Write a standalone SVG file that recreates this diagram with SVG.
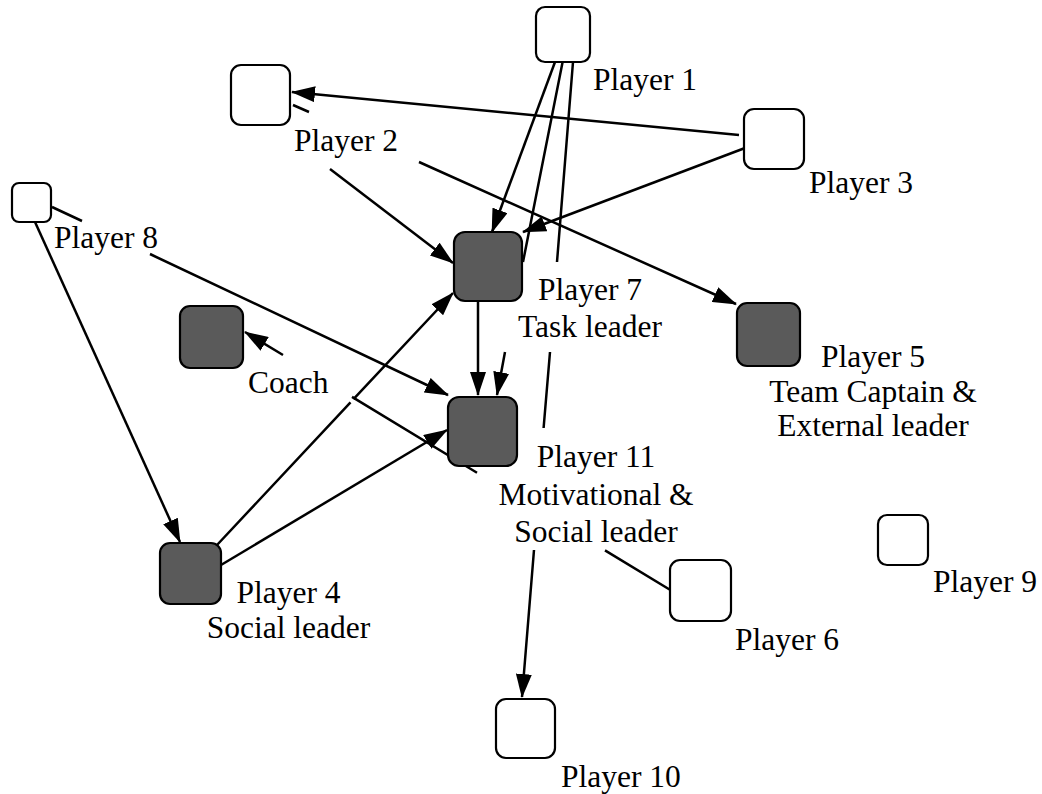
<svg xmlns="http://www.w3.org/2000/svg" width="1042" height="794" viewBox="0 0 1042 794">
<style>
.edge{fill:none;stroke:#000;stroke-width:2.5;marker-end:url(#arr)}
.wn{fill:#fff;stroke:#000;stroke-width:2.2}
.dn{fill:#5a5a5a;stroke:#000;stroke-width:2.2}
text{font-family:"Liberation Serif","Times New Roman",serif;font-size:31.5px;fill:#000}
.c{text-anchor:middle}
</style>
<defs>
<marker id="arr" markerWidth="24" markerHeight="16" refX="23" refY="8" orient="auto" markerUnits="userSpaceOnUse">
<path d="M0,0 L24,8 L0,16 z" fill="#000"/>
</marker>
</defs>
<rect width="1042" height="794" fill="#fff"/>
<g id="connectors">
<path class="edge" d="M739,135 L292,92"/>
<path class="edge" d="M745,148 L523,232"/>
<path class="edge" d="M555,62 L492,232"/>
<path class="edge" d="M563,60 L523,262 M505,352 L497,395"/>
<path class="edge" d="M573,62 L557,262 M550,352 L543.6,428 M534,550 L522,697"/>
<path class="edge" d="M293,105 L309,112 M419,162 L736,304"/>
<path class="edge" d="M330,169 L453,263"/>
<path class="edge" d="M52,207 L82,221 M150,254 L448,395"/>
<path class="edge" d="M35,222 L180,542"/>
<path class="edge" d="M217,545 L350.5,402.4 M353.5,399.2 L453,293"/>
<path class="edge" d="M221,565 L447,430"/>
<path class="edge" d="M478,302 L478,395"/>
<path class="edge" d="M672,591 L605,550.4 M477,472.7 L352,396.9 M283,355 L245,332"/>
</g>
<g id="player1"><rect class="wn" x="536" y="7" width="54" height="55" rx="9"/><text x="593" y="90">Player 1</text></g>
<g id="player2"><rect class="wn" x="231" y="65" width="59" height="60" rx="10"/><text x="294" y="151">Player 2</text></g>
<g id="player3"><rect class="wn" x="744" y="109" width="60" height="60" rx="10"/><text x="809" y="193">Player 3</text></g>
<g id="player8"><rect class="wn" x="12" y="183" width="39" height="39" rx="7"/><text x="54" y="248">Player 8</text></g>
<g id="player7"><rect class="dn" x="454" y="232" width="68" height="69" rx="11"/><text class="c" x="590" y="300">Player 7</text><text class="c" x="590" y="337">Task leader</text></g>
<g id="player5"><rect class="dn" x="737" y="303" width="63" height="63" rx="10"/><text class="c" x="873" y="367">Player 5</text><text class="c" x="873" y="402">Team Captain &amp;</text><text class="c" x="873" y="436">External leader</text></g>
<g id="coach"><rect class="dn" x="180" y="306" width="63" height="62" rx="10"/><text x="248" y="393">Coach</text></g>
<g id="player11"><rect class="dn" x="448" y="397" width="69" height="69" rx="11"/><text class="c" x="596" y="467">Player 11</text><text class="c" x="596" y="505">Motivational &amp;</text><text class="c" x="596" y="542">Social leader</text></g>
<g id="player4"><rect class="dn" x="160" y="543" width="61" height="61" rx="10"/><text class="c" x="288.5" y="603">Player 4</text><text class="c" x="288.5" y="638">Social leader</text></g>
<g id="player9"><rect class="wn" x="878" y="515" width="50" height="50" rx="9"/><text x="933" y="592">Player 9</text></g>
<g id="player6"><rect class="wn" x="670" y="560" width="61" height="61" rx="10"/><text x="735" y="650">Player 6</text></g>
<g id="player10"><rect class="wn" x="496" y="699" width="59" height="59" rx="10"/><text x="561" y="787">Player 10</text></g>
</svg>
